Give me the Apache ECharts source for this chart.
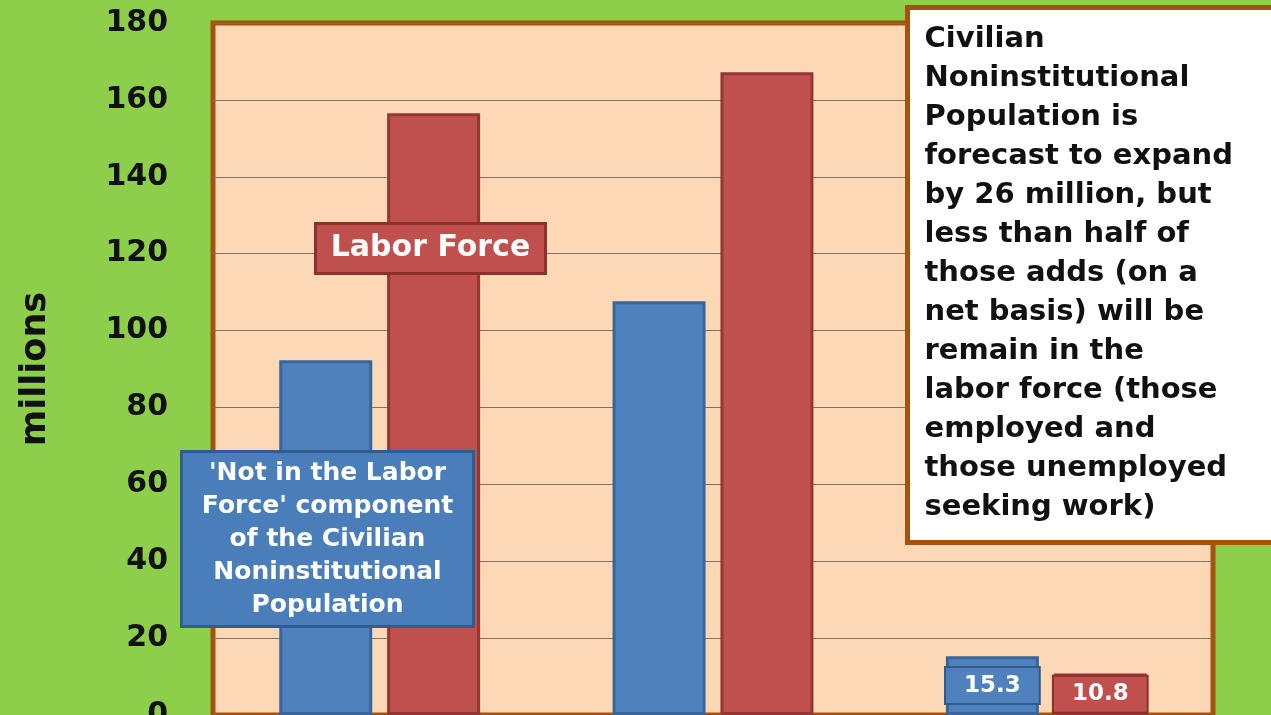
<!DOCTYPE html>
<html>
<head>
<meta charset="utf-8">
<script src="https://cdn.jsdelivr.net/npm/echarts@6/dist/echarts.min.js"></script>
<style>
  html, body { margin: 0; padding: 0; background: #8dcf4b; }
  #chart { width: 1271px; height: 715px; }
</style>
</head>
<body>
<div id="chart"></div>
<script>
// data (millions)
var categories = ['2006', '2016', 'Change'];
var notInLaborForce = [92.3, 107.6, 15.3];
var laborForce = [156.5, 167.2, 10.8];
var yTicks = [0, 20, 40, 60, 80, 100, 120, 140, 160, 180];

// only the change bars carry a value label
function withLabels(values, color, border) {
  return values.map(function (v, i) {
    if (i !== 2) return v;
    return {
      value: v,
      label: {
        show: true,
        position: 'inside',
        color: '#fff',
        fontSize: 23,
        fontWeight: 'bold',
        fontFamily: 'DejaVu Sans',
        backgroundColor: color,
        borderColor: border,
        borderWidth: 2,
        padding: [7, 18, 5, 18]
      }
    };
  });
}

var myChart = echarts.init(document.getElementById('chart'));

myChart.setOption({
  backgroundColor: '#8dcf4b',
  animation: false,
  grid: {
    left: 213,
    right: 58,
    top: 23,
    height: 692,
    outerBoundsMode: 'none',
    containLabel: false,
    show: true,
    backgroundColor: '#fdd8b6',
    borderColor: '#a3520f',
    borderWidth: 5
  },
  xAxis: {
    type: 'category',
    data: categories,
    axisLine: { show: false },
    axisTick: { show: false },
    axisLabel: { show: false }
  },
  yAxis: {
    type: 'value',
    min: yTicks[0],
    max: yTicks[yTicks.length - 1],
    interval: 20,
    name: 'millions',
    nameLocation: 'middle',
    nameRotate: 90,
    nameGap: 160,
    nameTextStyle: { fontSize: 35, fontWeight: 'bold', color: '#111', fontFamily: 'DejaVu Sans' },
    axisLine: { show: false },
    axisTick: { show: false },
    axisLabel: {
      margin: 45,
      fontSize: 30,
      fontWeight: 'bold',
      color: '#111',
      fontFamily: 'DejaVu Sans'
    },
    splitLine: { lineStyle: { color: '#7f7064', width: 1 } }
  },
  series: [
    {
      name: "Not in the Labor Force",
      type: 'bar',
      barWidth: 93,
      barGap: '16%',
      itemStyle: { color: '#4f81bd', borderColor: '#3a659b', borderWidth: 3 },
      data: withLabels(notInLaborForce, '#4f81bd', '#2f5a8e')
    },
    {
      name: 'Labor Force',
      type: 'bar',
      barWidth: 93,
      itemStyle: { color: '#c0504d', borderColor: '#943634', borderWidth: 3 },
      data: withLabels(laborForce, '#c0504d', '#8c2f2d')
    }
  ],
  graphic: [
    // Labor Force callout
    {
      type: 'group', left: 314, top: 222,
      children: [
        { type: 'rect', z: 100, shape: { x: 0, y: 0, width: 230, height: 50 },
          style: { fill: '#c0504d', stroke: '#8c2f2d', lineWidth: 3 } },
        { type: 'text', z: 101, x: 115, y: 25,
          style: { text: 'Labor Force', fill: '#fff', font: 'bold 30px "DejaVu Sans"',
                   align: 'center', verticalAlign: 'middle' } }
      ]
    },
    // Not in labor force callout
    {
      type: 'group', left: 180, top: 450,
      children: [
        { type: 'rect', z: 100, shape: { x: 0, y: 0, width: 292, height: 175 },
          style: { fill: '#4a7ebb', stroke: '#2e5c93', lineWidth: 3 } },
        { type: 'text', z: 101, x: 146, y: 88,
          style: { text: "'Not in the Labor\nForce' component\nof the Civilian\nNoninstitutional\nPopulation",
                   fill: '#fff', font: 'bold 25px "DejaVu Sans"', lineHeight: 33,
                   align: 'center', verticalAlign: 'middle' } }
      ]
    },
    // note box on the right
    {
      type: 'group', left: 905, top: 5,
      children: [
        { type: 'rect', z: 100, shape: { x: 0, y: 0, width: 390, height: 535 },
          style: { fill: '#ffffff', stroke: '#a3520f', lineWidth: 5 } },
        { type: 'text', z: 101, x: 17, y: 12,
          style: { text: 'Civilian\nNoninstitutional\nPopulation is\nforecast to expand\nby 26 million, but\nless than half of\nthose adds (on a\nnet basis) will be\nremain in the\nlabor force (those\nemployed and\nthose unemployed\nseeking work)',
                   fill: '#111', font: 'bold 29px "DejaVu Sans"', lineHeight: 39,
                   align: 'left', verticalAlign: 'top' } }
      ]
    }
  ]
});
</script>
</body>
</html>
